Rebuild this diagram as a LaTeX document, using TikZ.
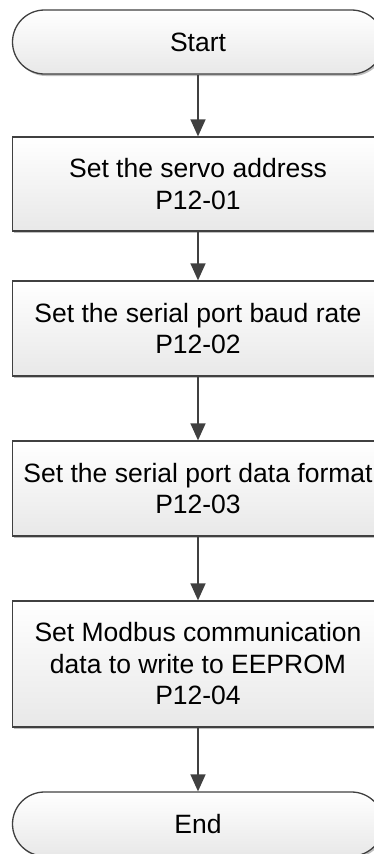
\documentclass[tikz,border=0pt]{standalone}
\usepackage{fontspec}
\setmainfont{Liberation Sans}
\usetikzlibrary{arrows.meta,shadows}
\definecolor{edge}{HTML}{404040}
\tikzset{
  base/.style={draw=edge, line width=1.3pt, top color=white, bottom color=black!9,
    minimum width=371pt, align=center, text=black,
    font=\fontsize{26.5}{31.5}\selectfont,
    drop shadow={shadow xshift=1.5pt, shadow yshift=-2pt, opacity=0.25, fill=black}},
  procbox/.style={base, rectangle},
  termbox/.style={base, rectangle, rounded corners=32pt, minimum height=64pt},
  flow/.style={draw=edge, line width=1.5pt, -{Triangle[length=17pt,width=15pt]}}
}
\begin{document}
\begin{tikzpicture}[x=1pt,y=-1pt]
\clip (0,0) rectangle (374,854);
\useasboundingbox (0,0) rectangle (374,854);
\node[termbox] (start) at (198,42) {Start};
\node[procbox, minimum height=94pt] (b1) at (198,184) {Set the servo address\\P12-01};
\node[procbox, minimum height=95pt] (b2) at (198,328.5) {Set the serial port baud rate\\P12-02};
\node[procbox, minimum height=95pt] (b3) at (198,488.5) {Set the serial port data format\\P12-03};
\node[procbox, minimum height=126pt] (b4) at (198,664) {Set Modbus communication\\data to write to EEPROM\\P12-04};
\node[termbox] (end) at (198,824) {End};
\draw[flow] (start) -- (b1);
\draw[flow] (b1) -- (b2);
\draw[flow] (b2) -- (b3);
\draw[flow] (b3) -- (b4);
\draw[flow] (b4) -- (end);
\end{tikzpicture}
\end{document}
